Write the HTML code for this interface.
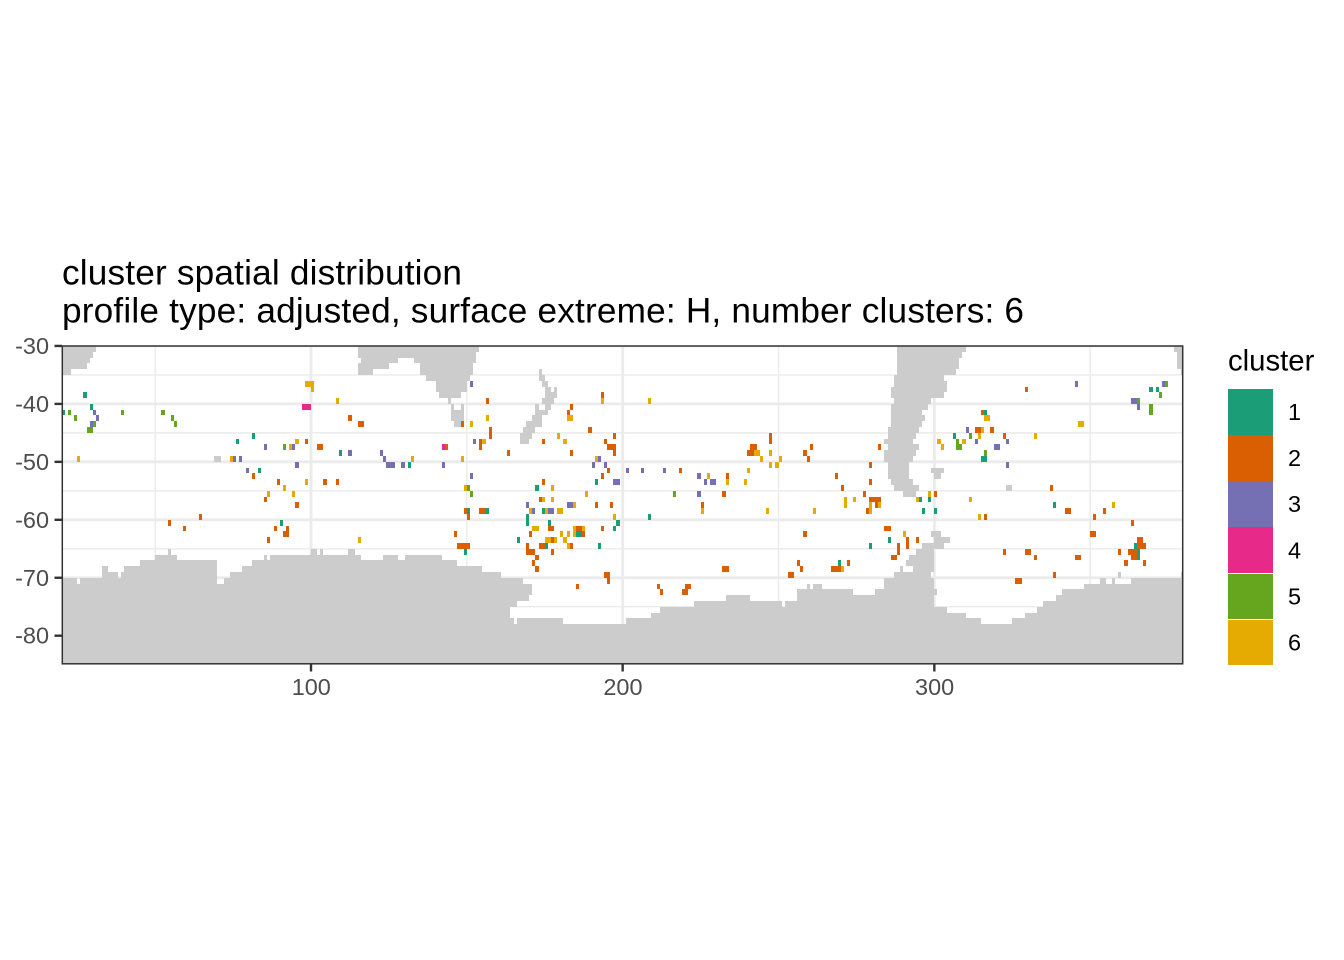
<!DOCTYPE html>
<html lang="en">
<head>
<meta charset="utf-8">
<title>cluster spatial distribution</title>
<style>
html,body{margin:0;padding:0;background:#fff;}
svg{display:block;font-family:"Liberation Sans",sans-serif;}
</style>
</head>
<body>
<svg id="chart" xmlns="http://www.w3.org/2000/svg" width="1344" height="960" viewBox="0 0 1344 960">
<rect x="0" y="0" width="1344" height="960" fill="#ffffff"/>
<defs><clipPath id="panel-clip"><rect x="62.3" y="346" width="1120.4" height="317.8"/></clipPath></defs>
<g id="grid" clip-path="url(#panel-clip)"></g>
<g id="land" clip-path="url(#panel-clip)" shape-rendering="crispEdges"></g>
<g id="cells" clip-path="url(#panel-clip)" shape-rendering="crispEdges"></g>
<rect x="62.3" y="346" width="1120.4" height="317.8" fill="none" stroke="#333333" stroke-width="1.5"/>
<g id="axes"></g>
<text x="62" y="284.5" font-size="35.2" fill="#000000" textLength="400" lengthAdjust="spacing">cluster spatial distribution</text>
<text x="62" y="322.5" font-size="35.2" fill="#000000" textLength="962" lengthAdjust="spacing">profile type: adjusted, surface extreme: H, number clusters: 6</text>
<text x="1228" y="370.7" font-size="29.33" fill="#000000">cluster</text>
<g id="legend"></g>
</svg>
<script>
// Each cell is [west longitude, north latitude] of a 1 x 1 degree tile.
const cluster1Cells = [[27,-38],[29,-40],[20,-41],[76,-46],[81,-45],[109,-48],[83,-51],[131,-50],[90,-60],[191,-53],[172,-54],[150,-58],[156,-58],[174,-58],[169,-59],[208,-59],[169,-60],[176,-60],[198,-60],[197,-61],[185,-62],[186,-62],[166,-63],[175,-64],[192,-64],[149,-65],[369,-37],[371,-37],[316,-41],[306,-45],[315,-49],[316,-49],[295,-56],[298,-56],[338,-57],[296,-58],[300,-58],[285,-63],[279,-64],[364,-64],[365,-65],[365,-66],[269,-67]];
const cluster2Cells = [[112,-42],[115,-43],[116,-43],[98,-46],[102,-47],[103,-47],[81,-52],[89,-53],[104,-53],[108,-53],[85,-56],[95,-57],[64,-59],[54,-60],[59,-61],[88,-61],[92,-61],[91,-62],[92,-62],[86,-63],
[156,-39],[193,-38],[183,-40],[182,-41],[148,-43],[157,-44],[157,-45],[189,-44],[197,-45],[247,-45],[247,-46],[154,-46],[154,-47],[174,-46],[194,-46],[143,-47],[195,-47],[196,-47],[197,-47],[163,-48],[183,-48],[197,-48],[241,-47],[242,-47],[240,-48],[241,-48],[258,-48],[259,-49],[195,-51],[218,-51],[193,-52],[233,-52],[174,-53],[232,-55],[173,-56],[191,-57],[196,-57],[225,-57],[149,-58],[154,-58],[155,-58],[150,-59],
[176,-61],[177,-61],[185,-61],[186,-61],[193,-61],[170,-62],[146,-62],[187,-62],[177,-63],[147,-64],[148,-64],[149,-64],[150,-64],[169,-64],[173,-64],[174,-64],[183,-64],[169,-65],[170,-65],[171,-65],[177,-65],[172,-66],[171,-67],[172,-68],[194,-69],[195,-69],[195,-70],[185,-71],[211,-71],[212,-72],[220,-71],[221,-71],[219,-72],[220,-72],[232,-68],[233,-68],[258,-62],[256,-67],[257,-68],[253,-69],[254,-69],
[329,-37],[315,-41],[313,-44],[314,-44],[318,-44],[322,-45],[260,-47],[282,-47],[279,-50],[268,-52],[279,-53],[270,-54],[337,-54],[277,-55],[300,-55],[279,-56],[280,-56],[281,-56],[282,-56],[281,-57],[278,-58],[342,-58],[343,-58],[354,-58],[316,-59],[351,-59],
[363,-60],[284,-61],[285,-61],[350,-62],[351,-62],[365,-63],[366,-63],[291,-63],[291,-64],[294,-63],[288,-64],[288,-65],[365,-64],[366,-64],[367,-64],[286,-66],[287,-66],[322,-65],[329,-65],[330,-65],[332,-66],[345,-66],[346,-66],[359,-65],[362,-65],[363,-65],[364,-65],[363,-66],[364,-66],[361,-67],[367,-67],[272,-67],[267,-68],[268,-68],[269,-68],[338,-69],[326,-70],[327,-70]];
const cluster3Cells = [[30,-41],[31,-42],[29,-43],[85,-47],[94,-47],[75,-49],[77,-49],[95,-50],[79,-51],[112,-48],[122,-48],[123,-49],[124,-50],[125,-50],[126,-50],[129,-50],
[151,-36],[152,-46],[142,-50],[151,-52],[192,-49],[190,-50],[194,-50],[201,-51],[206,-51],[213,-51],[224,-52],[226,-53],[228,-53],[229,-53],[197,-53],[198,-53],[224,-55],[169,-57],[182,-57],[183,-57],[171,-58],[176,-58],[177,-58],
[345,-36],[373,-36],[363,-39],[364,-39],[365,-40],[310,-44],[313,-46],[323,-46],[319,-47],[320,-47],[323,-50]];
const cluster4Cells = [[97,-40],[98,-40],[99,-40],[142,-47]];
const cluster5Cells = [[22,-41],[24,-42],[39,-41],[52,-41],[55,-42],[56,-43],[30,-43],[28,-44],[29,-44],[91,-47],[150,-54],[151,-55],[216,-55],[374,-36],[372,-38],[365,-39],[369,-40],[369,-41],[311,-45],[307,-46],[307,-47],[308,-47],[316,-48]];
const cluster6Cells = [[98,-36],[99,-36],[100,-36],[100,-37],[108,-39],[95,-46],[93,-47],[25,-49],[74,-49],[132,-49],[91,-54],[98,-53],[86,-55],[94,-55],[115,-63],
[193,-39],[208,-39],[156,-42],[182,-42],[183,-42],[151,-43],[179,-45],[155,-46],[181,-46],[148,-49],[191,-49],[242,-48],[243,-48],[247,-48],[244,-49],[250,-49],[247,-50],[249,-50],[240,-51],[227,-52],[233,-53],[239,-53],[177,-54],[149,-54],[188,-55],[174,-56],[177,-56],[184,-57],[170,-58],[175,-58],[179,-58],[180,-58],[225,-58],[246,-58],[197,-59],
[171,-61],[172,-61],[184,-61],[187,-61],[180,-62],[182,-62],[184,-62],[175,-63],[176,-63],[178,-63],[181,-63],[182,-64],
[316,-42],[317,-42],[346,-43],[347,-43],[315,-44],[314,-45],[332,-45],[301,-46],[309,-46],[302,-47],[298,-55],[271,-56],[271,-57],[274,-56],[294,-56],[311,-56],[279,-57],[279,-58],[282,-57],[357,-57],[261,-58],[314,-59],[290,-62],[270,-68]];

const clusterLabels = ["1","2","3","4","5","6"];
const xMajorTicks = [100,200,300];
const xMinorTicks = [50,150,250,350];
const yMajorTicks = [-30,-40,-50,-60,-70,-80];
const yMinorTicks = [-35,-45,-55,-65,-75];
const xTickLabels = ["100","200","300"];
const yTickLabels = ["-30","-40","-50","-60","-70","-80"];

// Land rows: [north latitude, first longitude, end longitude]
const landRuns = [
[-30,20,31],[-31,20,30],[-32,20,29],[-33,20,28],[-34,20,23],
[-30,115,154],[-31,115,153],[-32,116,128],[-32,133,153],[-33,115,125],[-33,135,152],[-34,115,120],[-34,135,152],[-35,137,151],[-36,140,150],[-37,140,150],[-38,141,148],[-39,144,145],[-40,145,146],[-40,148,149],[-41,145,149],[-42,145,149],[-43,146,149],
[-49,69,71],
[-34,173,174],[-35,173,175],[-36,174,176],[-37,175,177],[-37,178,179],[-38,175,179],[-39,174,178],[-40,172,173],[-40,175,177],[-41,172,176],[-42,171,174],[-43,169,174],[-44,168,172],[-45,167,171],[-46,167,170],
[-30,288,310],[-31,288,309],[-32,288,308],[-33,288,308],[-34,288,307],[-35,287,303],[-36,287,304],[-37,286,304],[-38,286,303],[-39,287,299],[-40,286,298],[-41,286,296],[-42,286,297],[-43,286,296],[-44,285,295],[-45,285,294],[-46,284,293],[-47,285,295],[-48,284,294],[-49,284,293],[-50,285,292],[-51,285,292],[-51,299,303],[-52,285,292],[-52,300,302],[-53,286,293],[-54,287,295],[-55,290,294],[-54,323,325],
[-30,377,380],[-31,378,380],[-32,378,380],[-33,378,380],[-34,379,380],
[-70,164,168],[-71,164,171],[-72,164,171],[-73,164,170],[-74,164,166],[-77,164,165],[-77,166,171],
[-62,299,302],[-63,300,305],[-64,296,303],[-65,294,300],[-66,292,300],[-67,291,300],[-68,293,300],[-72,300,301],[-69,359,360]
];
// Antarctic coast: [first longitude, end longitude, coast latitude]
const antarcticSegments = [
[20,25,-70],[25,26,-71],[26,33,-70],[33,35,-68],[35,38,-69],[38,39,-70],[39,40,-69],[40,45,-68],[45,50,-67],[50,54,-66],[54,55,-65],[55,57,-66],[57,70,-67],[70,72,-71],[72,74,-70],[74,78,-69],[78,81,-68],[81,85,-67],[85,86,-66],[86,87,-67],[87,100,-66],[100,102,-65],[102,103,-66],[103,104,-65],[104,112,-66],[112,114,-65],[114,116,-66],[116,123,-67],[123,128,-66],[128,130,-67],[130,142,-66],[142,147,-67],[147,155,-68],[155,161,-69],[161,164,-70],[164,171,-78],[171,181,-77],[181,201,-78],[201,209,-77],[209,212,-76],[212,223,-75],[223,233,-74],[233,241,-73],[241,251,-74],[251,252,-75],[252,256,-74],[256,259,-72],[259,260,-71],[260,261,-72],[261,264,-71],[264,274,-72],[274,281,-73],[281,284,-72],[284,287,-70],[287,289,-69],[289,290,-68],[290,293,-69],[293,299,-69],[299,300,-70],[300,304,-75],[304,310,-76],[310,315,-77],[315,325,-78],[325,329,-77],[329,333,-76],[333,335,-75],[335,339,-74],[339,341,-73],[341,348,-72],[348,353,-71],[353,355,-70],[355,357,-71],[357,358,-70],[358,363,-71],[363,379,-70],[379,380,-69]
];
const landBottomLat = -86;

const clusterColors = ["#1B9E77","#D95F02","#7570B3","#E7298A","#66A61E","#E6AB02"];
const clusterCells = [cluster1Cells,cluster2Cells,cluster3Cells,cluster4Cells,cluster5Cells,cluster6Cells];

const NS = "http://www.w3.org/2000/svg";
function xScale(lon){ return 311 + (lon - 100) * 3.1167; }
function yScale(lat){ return 403.9 + (-40 - lat) * 5.795; }
function make(tag, parent, attrs){
  const el = document.createElementNS(NS, tag);
  for (const k in attrs) el.setAttribute(k, attrs[k]);
  parent.appendChild(el);
  return el;
}

const grid = document.getElementById("grid");
xMinorTicks.forEach(function(v){
  const el = make("line", grid, {x1:xScale(v),x2:xScale(v),y1:346,y2:664,stroke:"#EBEBEB","stroke-width":1.42});
  
  
});
yMinorTicks.forEach(function(v){
  const el = make("line", grid, {x1:62,x2:1183,y1:yScale(v),y2:yScale(v),stroke:"#EBEBEB","stroke-width":1.42});
  
  
});
xMajorTicks.forEach(function(v){
  const el = make("line", grid, {x1:xScale(v),x2:xScale(v),y1:346,y2:664,stroke:"#EBEBEB","stroke-width":2.85});
  
  
});
yMajorTicks.forEach(function(v){
  const el = make("line", grid, {x1:62,x2:1183,y1:yScale(v),y2:yScale(v),stroke:"#EBEBEB","stroke-width":2.85});
  
  
});

const land = document.getElementById("land");
landRuns.forEach(function(r){
  const x0 = Math.round(xScale(r[1])), x1 = Math.round(xScale(r[2]));
  const y0 = Math.round(yScale(r[0])), y1 = Math.round(yScale(r[0] - 1));
  const el = make("rect", land, {x:x0,y:y0,width:x1-x0,height:y1-y0,fill:"#CCCCCC"});
  
  
});
antarcticSegments.forEach(function(s){
  const x0 = Math.round(xScale(s[0])), x1 = Math.round(xScale(s[1]));
  const y0 = Math.round(yScale(s[2])), y1 = Math.round(yScale(landBottomLat));
  const el = make("rect", land, {x:x0,y:y0,width:x1-x0,height:y1-y0,fill:"#CCCCCC"});
  
  
});

const cells = document.getElementById("cells");
clusterCells.forEach(function(list, i){
  list.forEach(function(c){
    const x0 = Math.round(xScale(c[0])), x1 = Math.round(xScale(c[0] + 1));
    const y0 = Math.round(yScale(c[1])), y1 = Math.round(yScale(c[1] - 1));
    const el = make("rect", cells, {x:x0,y:y0,width:x1-x0,height:y1-y0,fill:clusterColors[i]});
    
    
  });
});

const axes = document.getElementById("axes");
xMajorTicks.forEach(function(v, i){
  const t = make("line", axes, {x1:xScale(v),x2:xScale(v),y1:664,y2:671.5,stroke:"#333333","stroke-width":2.4});
  
  
  const l = make("text", axes, {x:xScale(v)+0.3,y:695,"text-anchor":"middle","font-size":23.47,fill:"#4D4D4D"});
  l.textContent = xTickLabels[i];
  
  
});
yMajorTicks.forEach(function(v, i){
  const t = make("line", axes, {x1:54.5,x2:62,y1:yScale(v),y2:yScale(v),stroke:"#333333","stroke-width":2.4});
  
  
  const l = make("text", axes, {x:49,y:yScale(v)+8,"text-anchor":"end","font-size":23.47,fill:"#4D4D4D"});
  l.textContent = yTickLabels[i];
  
  
});

const legend = document.getElementById("legend");
clusterLabels.forEach(function(lbl, i){
  const y0 = 389 + i * 46;
  const k = make("rect", legend, {x:1228,y:y0,width:45,height:46,fill:clusterColors[i],"shape-rendering":"crispEdges"});
  
  
  if (i > 3) {
    const g = make("rect", legend, {x:1228,y:y0,width:45,height:1,fill:"#ffffff","shape-rendering":"crispEdges"});
    
    
  }
  const t = make("text", legend, {x:1288,y:420 + i * 46.1,"font-size":23.47,fill:"#000000"});
  t.textContent = lbl;
  
  
});
</script>
</body>
</html>
